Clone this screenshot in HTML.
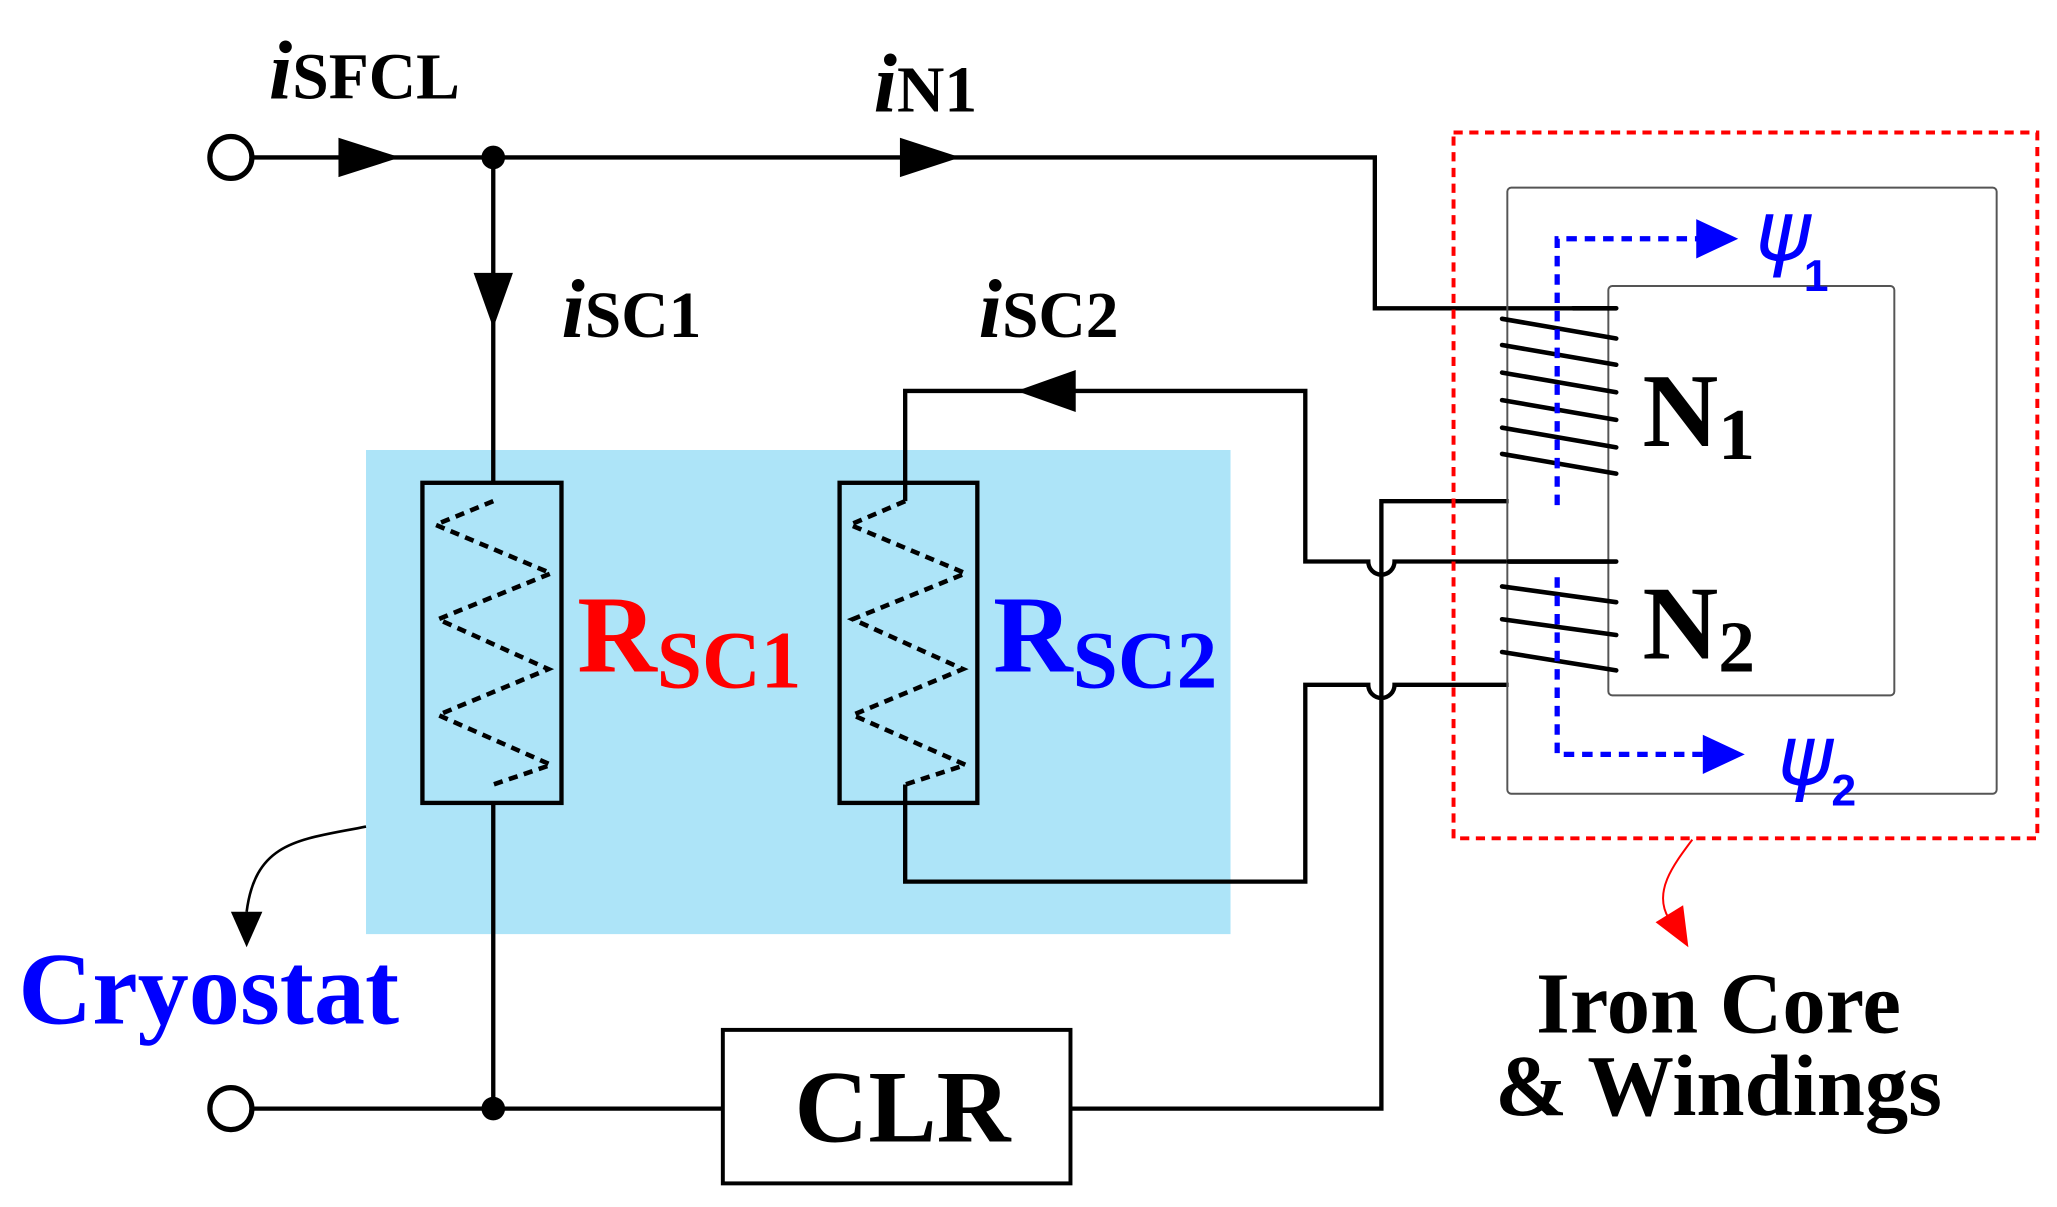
<!DOCTYPE html>
<html><head><meta charset="utf-8"><style>html,body{margin:0;padding:0;background:#fff}svg{display:block}</style></head>
<body>
<svg width="2057" height="1207" viewBox="0 0 1568 920" preserveAspectRatio="none" xmlns="http://www.w3.org/2000/svg">
<rect x="279" y="343" width="659" height="369" fill="#ade4f8"/>
<g fill="none" stroke="#000" stroke-width="3.3">
<path d="M192 120 H1048 V235 H1232"/>
<path d="M376 120 V368"/>
<path d="M376 612 V845"/>
<path d="M192 845 H551"/>
<path d="M816 845 H1053 V382 H1150"/>
<path d="M690 382 V298 H995 V428 H1043 A10 10 0 0 0 1063 428 H1230"/>
<path d="M690 598 V672 H995 V522 H1043 A10 10 0 0 0 1063 522 H1150"/>
<rect x="322" y="368" width="106" height="244"/>
<rect x="640" y="368" width="105" height="244"/>
</g>
<circle cx="176" cy="120" r="16" fill="#fff" stroke="#000" stroke-width="4"/>
<circle cx="176" cy="845" r="16" fill="#fff" stroke="#000" stroke-width="4"/>
<circle cx="376" cy="120" r="9"/>
<circle cx="376" cy="845" r="9"/>
<rect x="551" y="785" width="265" height="117" fill="#fff" stroke="#000" stroke-width="3"/>
<text x="688" y="870" font-family="Liberation Serif" font-weight="bold" font-size="78" text-anchor="middle">CLR</text>
<polygon points="258,105 305,120 258,135"/>
<polygon points="686,105 732,120 686,135"/>
<polygon points="361,208 391,208 376,250"/>
<polygon points="820,282 820,314 775,298"/>
<g fill="none" stroke="#000" stroke-width="3.5" stroke-dasharray="7,5">
<path d="M376 382 L332 400 L420 437 L334 472 L418 510 L334 545 L420 583 L376 598"/>
<path d="M690 382 L648 400 L736 437 L650 472 L734 510 L650 545 L736 583 L690 598"/>
</g>
<rect x="1149" y="143" width="373" height="462" rx="3" fill="none" stroke="#555" stroke-width="1.5"/>
<rect x="1226" y="218" width="218" height="312" rx="3" fill="#fff" stroke="#555" stroke-width="1.5"/>
<rect x="1108" y="101" width="445" height="538" fill="none" stroke="#f00" stroke-width="3" stroke-dasharray="7,5"/>
<g stroke="#000" stroke-width="3.5" stroke-linecap="round">
<line x1="1199" y1="235" x2="1232" y2="235"/>
<line x1="1145" y1="243" x2="1232" y2="258"/>
<line x1="1145" y1="263" x2="1232" y2="278"/>
<line x1="1145" y1="284" x2="1232" y2="299"/>
<line x1="1145" y1="305" x2="1232" y2="320"/>
<line x1="1145" y1="326" x2="1232" y2="341"/>
<line x1="1145" y1="346" x2="1232" y2="361"/>
<line x1="1150" y1="428" x2="1232" y2="428"/>
<line x1="1145" y1="447" x2="1232" y2="459"/>
<line x1="1145" y1="472" x2="1232" y2="484"/>
<line x1="1145" y1="497" x2="1232" y2="511"/>
</g>
<g fill="none" stroke="#00f" stroke-width="4" stroke-dasharray="8,6">
<path d="M1187 385 V182 H1300"/>
<path d="M1187 440 V575 H1305"/>
</g>
<polygon points="1293,167 1325,182 1293,197" fill="#00f"/>
<polygon points="1298,560 1330,575 1298,590" fill="#00f"/>
<text x="1338" y="198" font-family="DejaVu Sans" font-style="italic" font-size="64" fill="#00f">ψ</text>
<text x="1375" y="222" font-family="Liberation Sans" font-weight="bold" font-size="34" fill="#00f">1</text>
<text x="1355" y="598" font-family="DejaVu Sans" font-style="italic" font-size="64" fill="#00f">ψ</text>
<text x="1396" y="614" font-family="Liberation Sans" font-weight="bold" font-size="34" fill="#00f">2</text>
<text x="1252" y="340" font-family="Liberation Serif" font-weight="bold" font-size="80">N<tspan font-size="56" dy="10">1</tspan></text>
<text x="1252" y="502" font-family="Liberation Serif" font-weight="bold" font-size="80">N<tspan font-size="56" dy="10">2</tspan></text>
<path d="M1290 640 C1275 660,1260 680,1272 700" fill="none" stroke="#f00" stroke-width="1.5"/>
<polygon points="1262,703 1283,690 1287,722" fill="#f00"/>
<text x="1310" y="787" font-family="Liberation Serif" font-weight="bold" font-size="66" text-anchor="middle">Iron Core</text>
<text x="1310" y="850" font-family="Liberation Serif" font-weight="bold" font-size="66" text-anchor="middle">&amp; Windings</text>
<path d="M279 630 C230 640,195 640,188 695" fill="none" stroke="#000" stroke-width="2"/>
<polygon points="176,695 200,695 188,722"/>
<text x="14" y="780" font-family="Liberation Serif" font-weight="bold" font-size="78" fill="#00f">Cryostat</text>
<g font-family="Liberation Serif" font-weight="bold">
<text x="205" y="75" font-size="64" font-style="italic">i<tspan font-style="normal" font-size="50">SFCL</tspan></text>
<text x="666" y="85" font-size="64" font-style="italic">i<tspan font-style="normal" font-size="50">N1</tspan></text>
<text x="428" y="257" font-size="64" font-style="italic">i<tspan font-style="normal" font-size="50">SC1</tspan></text>
<text x="746" y="257" font-size="64" font-style="italic">i<tspan font-style="normal" font-size="50">SC2</tspan></text>
<text x="440" y="512" font-size="84" fill="#f00">R<tspan font-size="62" dy="12">SC1</tspan></text>
<text x="757" y="512" font-size="84" fill="#00f">R<tspan font-size="62" dy="12">SC2</tspan></text>
</g>
</svg>
</body></html>
